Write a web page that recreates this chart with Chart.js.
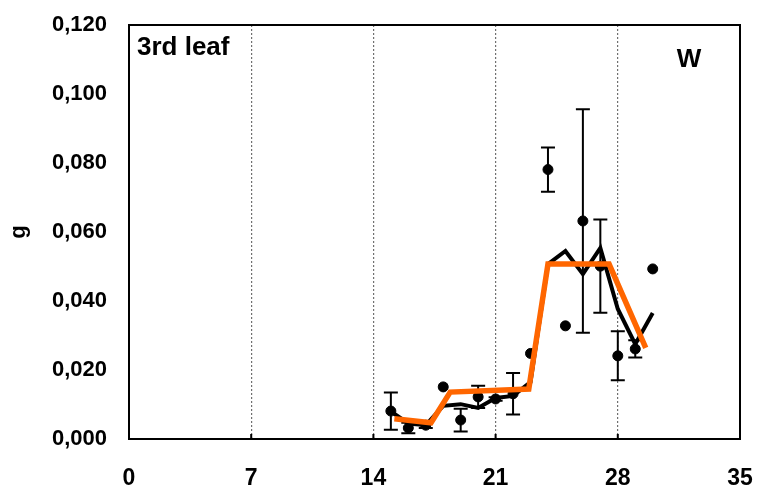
<!DOCTYPE html>
<html>
<head>
<meta charset="utf-8">
<script src="https://cdn.jsdelivr.net/npm/chart.js@4/dist/chart.umd.min.js"></script>
<style>
  html, body { margin: 0; padding: 0; background: #fff; }
  #wrap { width: 758px; height: 491px; }
</style>
</head>
<body>
<div id="wrap"><canvas id="leaf"></canvas></div>
<script>
const days = [15, 16, 17, 18, 19, 20, 21, 22, 23, 24, 25, 26, 27, 28, 29, 30];
const means = [0.0081, 0.0032, 0.0040, 0.0151, 0.0055, 0.0122, 0.0116, 0.0131,
               0.0248, 0.0781, 0.0328, 0.0632, 0.0501, 0.0241, 0.0261, 0.0493];
const errors = [0.0054, 0.0015, 0.0008, 0, 0.0033, 0.0032, 0.0005, 0.0060,
                0, 0.0064, 0, 0.0324, 0.0135, 0.0071, 0.0025, 0];
const smooth = [0.0080, 0.0045, 0.0040, 0.0096, 0.0101, 0.0090, 0.0119, 0.0125,
                0.0165, 0.0507, 0.0545, 0.0478, 0.0554, 0.0377, 0.0275, 0.0365];
const stepDays = [15.2, 17.3, 18.4, 22.9, 24.0, 27.5, 29.6];
const stepValues = [0.0059, 0.0047, 0.0136, 0.0145, 0.0507, 0.0507, 0.0264];
const xTicks = [0, 7, 14, 21, 28, 35];
const yTicks = [0, 0.02, 0.04, 0.06, 0.08, 0.10, 0.12];

const FONT = "'Liberation Sans', Arial, sans-serif";

// error bars go under the lines
const errorBars = {
  id: 'errorBars',
  beforeDatasetsDraw(chart) {
    const { ctx, scales: { x, y } } = chart;
    ctx.save();
    ctx.strokeStyle = '#000';
    ctx.lineWidth = 2;
    days.forEach((d, i) => {
      if (!errors[i]) return;
      const px = x.getPixelForValue(d);
      const top = y.getPixelForValue(means[i] + errors[i]);
      const bot = y.getPixelForValue(means[i] - errors[i]);
      ctx.beginPath();
      ctx.moveTo(px, top); ctx.lineTo(px, bot);
      ctx.moveTo(px - 7, top); ctx.lineTo(px + 7, top);
      ctx.moveTo(px - 7, bot); ctx.lineTo(px + 7, bot);
      ctx.stroke();
    });
    ctx.restore();
  }
};

// frame, inner ticks and the two labels
const frame = {
  id: 'frame',
  afterDraw(chart) {
    const { ctx, chartArea: a, scales: { x } } = chart;
    ctx.save();
    ctx.strokeStyle = '#000';
    ctx.lineWidth = 2;
    ctx.strokeRect(a.left, a.top, a.right - a.left, a.bottom - a.top);
    ctx.beginPath();
    xTicks.slice(1, -1).forEach(t => {
      const px = x.getPixelForValue(t);
      ctx.moveTo(px, a.bottom); ctx.lineTo(px, a.bottom - 5);
    });
    ctx.stroke();
    ctx.fillStyle = '#000';
    ctx.font = 'bold 26px ' + FONT;
    ctx.textAlign = 'left';
    ctx.textBaseline = 'alphabetic';
    ctx.fillText('3rd leaf', a.left + 8, a.top + 30);
    ctx.textAlign = 'center';
    ctx.fillText('W', 689, 67);
    ctx.restore();
  }
};

new Chart(document.getElementById('leaf'), {
  type: 'scatter',
  data: {
    datasets: [
      {
        label: 'step',
        data: stepDays.map((d, i) => ({ x: d, y: stepValues[i] })),
        showLine: true,
        borderColor: '#ff6600',
        borderWidth: 5.5,
        pointRadius: 0,
        borderJoinStyle: 'miter',
        order: 1
      },
      {
        label: 'mean line',
        data: days.map((d, i) => ({ x: d, y: smooth[i] })),
        showLine: true,
        borderColor: '#000',
        borderWidth: 4,
        pointRadius: 0,
        borderJoinStyle: 'miter',
        order: 2
      },
      {
        label: 'W',
        data: days.map((d, i) => ({ x: d, y: means[i] })),
        backgroundColor: '#000',
        borderColor: '#000',
        pointRadius: 5,
        order: 3
      }
    ]
  },
  options: {
    responsive: true,
    maintainAspectRatio: false,
    animation: false,
    layout: { autoPadding: false, padding: { top: 25, right: 18, left: 0, bottom: 0 } },
    plugins: { legend: { display: false }, tooltip: { enabled: false } },
    scales: {
      x: {
        type: 'linear',
        min: 0,
        max: 35,
        afterBuildTicks: s => { s.ticks = xTicks.map(v => ({ value: v })); },
        afterFit: s => { s.height = 52; s.paddingLeft = 0; s.paddingRight = 0; },
        border: { display: false, dash: [2, 2] },
        grid: {
          drawTicks: false,
          color: c => (c.tick && (c.tick.value === 0 || c.tick.value === 35)) ? 'rgba(0,0,0,0)' : '#707070',
          lineWidth: 1.2
        },
        ticks: {
          padding: 26,
          color: '#000',
          font: { family: FONT, size: 23, weight: 'bold' },
          maxRotation: 0
        }
      },
      y: {
        min: 0,
        max: 0.12,
        afterBuildTicks: s => { s.ticks = yTicks.map(v => ({ value: v })); },
        afterFit: s => { s.width = 129; s.paddingTop = 0; s.paddingBottom = 0; },
        border: { display: false },
        grid: { display: false, drawTicks: false },
        title: {
          display: true,
          text: 'g',
          color: '#000',
          font: { family: FONT, size: 22, weight: 'bold' },
          padding: { top: 6, bottom: 0 }
        },
        ticks: {
          padding: 22,
          color: '#000',
          font: { family: FONT, size: 22, weight: 'bold' },
          callback: v => v.toFixed(3).replace('.', ',')
        }
      }
    }
  },
  plugins: [errorBars, frame]
});
</script>
</body>
</html>
